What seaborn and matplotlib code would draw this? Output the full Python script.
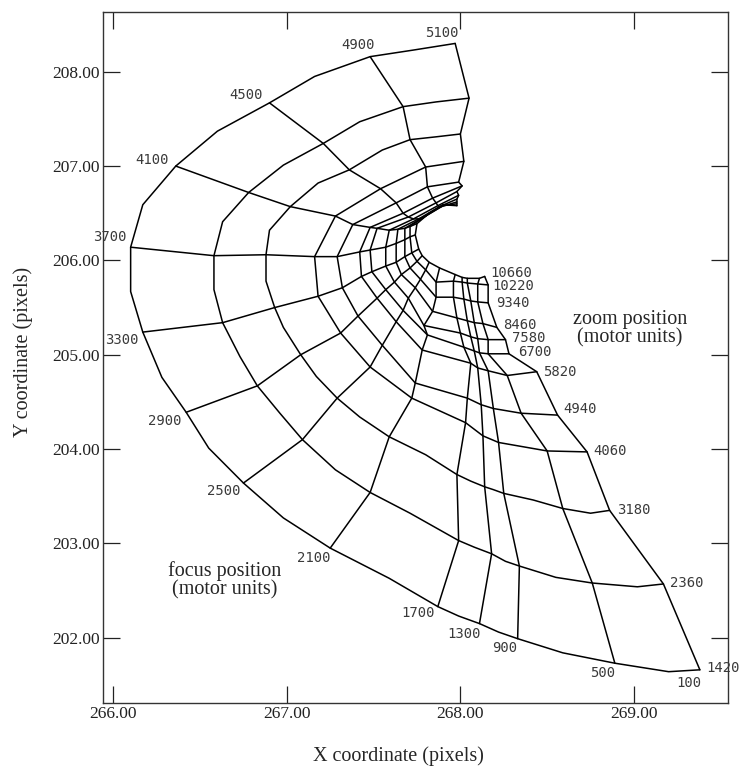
import numpy as np
import pandas as pd
import matplotlib
matplotlib.use("Agg")
import matplotlib.pyplot as plt
import seaborn as sns

sns.set_style("ticks")
plt.rcParams['font.family'] = ['Liberation Serif', 'DejaVu Serif']

focus = [100, 500, 900, 1300, 1700, 2100, 2500, 2900, 3300, 3700, 4100, 4500, 4900, 5100]
zoom = [1420, 2360, 3180, 4060, 4940, 5820, 6700, 7580, 8460, 9340, 10220, 10660]

# one arc per zoom setting, nodes listed by focus (100 ... 5100)
x_1420 = [269.38, 268.89, 268.33, 268.11, 267.87, 267.25, 266.75, 266.42, 266.17, 266.10, 266.36, 266.90, 267.48, 267.97]
y_1420 = [201.66, 201.73, 201.99, 202.15, 202.33, 202.95, 203.64, 204.39, 205.24, 206.14, 207.00, 207.67, 208.16, 208.30]
x_2360 = [269.17, 268.76, 268.34, 268.18, 267.99, 267.48, 267.09, 266.83, 266.63, 266.58, 266.78, 267.21, 267.67, 268.05]
y_2360 = [202.57, 202.58, 202.76, 202.89, 203.03, 203.54, 204.10, 204.67, 205.34, 206.05, 206.72, 207.24, 207.63, 207.72]
x_3180 = [268.86, 268.59, 268.25, 268.14, 267.98, 267.59, 267.29, 267.08, 266.93, 266.88, 267.02, 267.36, 267.71, 268.00]
y_3180 = [203.35, 203.37, 203.53, 203.60, 203.73, 204.13, 204.54, 205.00, 205.50, 206.06, 206.57, 206.96, 207.28, 207.34]
x_4060 = [268.73, 268.50, 268.22, 268.13, 268.03, 267.72, 267.48, 267.31, 267.18, 267.16, 267.28, 267.54, 267.80, 268.02]
y_4060 = [203.97, 203.98, 204.07, 204.14, 204.28, 204.54, 204.87, 205.23, 205.62, 206.04, 206.47, 206.76, 206.99, 207.05]
x_4940 = [268.56, 268.35, 268.19, 268.12, 268.04, 267.74, 267.55, 267.41, 267.32, 267.29, 267.38, 267.63, 267.81, 267.99]
y_4940 = [204.36, 204.38, 204.43, 204.47, 204.54, 204.70, 205.10, 205.41, 205.71, 206.04, 206.38, 206.61, 206.78, 206.83]
x_5820 = [268.44, 268.27, 268.16, 268.10, 268.06, 267.78, 267.63, 267.52, 267.43, 267.42, 267.48, 267.67, 267.84, 268.01]
y_5820 = [204.82, 204.78, 204.83, 204.86, 204.91, 205.05, 205.35, 205.60, 205.83, 206.09, 206.35, 206.50, 206.66, 206.79]
x_6700 = [268.28, 268.16, 268.11, 268.08, 268.02, 267.81, 267.67, 267.57, 267.49, 267.48, 267.52, 267.70, 267.86, 267.98]
y_6700 = [205.01, 205.01, 205.02, 205.04, 205.08, 205.21, 205.47, 205.69, 205.88, 206.11, 206.34, 206.46, 206.61, 206.73]
x_7580 = [268.26, 268.16, 268.10, 268.06, 268.00, 267.79, 267.70, 267.62, 267.57, 267.57, 267.59, 267.73, 267.87, 267.99]
y_7580 = [205.16, 205.16, 205.17, 205.19, 205.23, 205.31, 205.60, 205.77, 205.94, 206.14, 206.32, 206.44, 206.58, 206.69]
x_8460 = [268.21, 268.13, 268.08, 268.04, 267.98, 267.84, 267.74, 267.66, 267.63, 267.63, 267.64, 267.76, 267.88, 267.98]
y_8460 = [205.29, 205.33, 205.34, 205.36, 205.39, 205.46, 205.71, 205.85, 205.98, 206.18, 206.33, 206.44, 206.57, 206.65]
x_9340 = [268.16, 268.10, 268.06, 268.02, 267.96, 267.86, 267.77, 267.71, 267.68, 267.68, 267.68, 267.78, 267.89, 267.98]
y_9340 = [205.55, 205.56, 205.57, 205.59, 205.61, 205.61, 205.80, 205.92, 206.04, 206.22, 206.34, 206.45, 206.57, 206.62]
x_10220 = [268.16, 268.10, 268.04, 268.01, 267.96, 267.86, 267.80, 267.75, 267.72, 267.71, 267.71, 267.80, 267.90, 267.98]
y_10220 = [205.74, 205.75, 205.76, 205.77, 205.78, 205.77, 205.90, 205.99, 206.08, 206.25, 206.36, 206.47, 206.58, 206.60]
x_10660 = [268.14, 268.11, 268.04, 268.01, 267.97, 267.88, 267.82, 267.78, 267.76, 267.74, 267.75, 267.82, 267.90, 267.98]
y_10660 = [205.83, 205.81, 205.81, 205.82, 205.85, 205.92, 205.98, 206.05, 206.12, 206.27, 206.39, 206.50, 206.59, 206.58]

# extra samples half way between focus lines, seen on the three outer arcs
x_1420_mid = [269.20, 268.59, 268.22, 267.99, 267.59, 266.98, 266.55, 266.28, 266.10, 266.17, 266.60, 267.16, 267.73]
y_1420_mid = [201.64, 201.84, 202.06, 202.23, 202.63, 203.27, 204.01, 204.76, 205.67, 206.59, 207.37, 207.95, 208.23]
x_2360_mid = [269.02, 268.55, 268.26, 268.08, 267.71, 267.28, 266.96, 266.73, 266.58, 266.63, 266.98, 267.42, 267.86]
y_2360_mid = [202.54, 202.64, 202.81, 202.96, 203.32, 203.78, 204.38, 204.98, 205.69, 206.41, 207.01, 207.47, 207.68]
x_3180_mid = [268.75, 268.42, 268.19, 268.06, 267.80, 267.42, 267.17, 266.98, 266.88, 266.90, 267.18, 267.55, 267.86]
y_3180_mid = [203.32, 203.46, 203.57, 203.66, 203.94, 204.34, 204.77, 205.29, 205.78, 206.32, 206.82, 207.17, 207.31]

grid_x = np.array([x_1420, x_2360, x_3180, x_4060, x_4940, x_5820,
                   x_6700, x_7580, x_8460, x_9340, x_10220, x_10660])
grid_y = np.array([y_1420, y_2360, y_3180, y_4060, y_4940, y_5820,
                   y_6700, y_7580, y_8460, y_9340, y_10220, y_10660])
mids = {1420: (x_1420_mid, y_1420_mid), 2360: (x_2360_mid, y_2360_mid),
        3180: (x_3180_mid, y_3180_mid)}

# long table: every arc (fixed zoom) and every spoke (fixed focus) is one unit
rows = []
for i, z in enumerate(zoom):
    xs, ys = list(grid_x[i]), list(grid_y[i])
    if z in mids:
        mx, my = mids[z]
        xs = [v for pair in zip(xs[:-1], mx) for v in pair] + [xs[-1]]
        ys = [v for pair in zip(ys[:-1], my) for v in pair] + [ys[-1]]
    for k in range(len(xs)):
        rows.append(("zoom%d" % z, k, xs[k], ys[k]))
for j, f in enumerate(focus):
    for i in range(len(zoom)):
        rows.append(("focus%d" % f, i, grid_x[i, j], grid_y[i, j]))
df = pd.DataFrame(rows, columns=["line", "order", "x", "y"])

fig = plt.figure(figsize=(7.41, 7.66), dpi=100)
ax = fig.add_axes([0.1386, 0.0826, 0.8443, 0.9017])

sns.lineplot(data=df, x="x", y="y", units="line", estimator=None, sort=False,
             color="black", lw=1.1, legend=False, ax=ax)

ax.set_xlim(265.939, 269.544)
ax.set_ylim(201.311, 208.633)
ax.set_xticks([266, 267, 268, 269])
ax.set_yticks([202, 203, 204, 205, 206, 207, 208])
ax.xaxis.set_major_formatter(matplotlib.ticker.FormatStrFormatter("%.2f"))
ax.yaxis.set_major_formatter(matplotlib.ticker.FormatStrFormatter("%.2f"))
ax.tick_params(direction="in", length=12, width=0.9, top=True, right=True,
               labelsize=12.5, pad=2, colors="#222222")
for sp in ax.spines.values():
    sp.set_linewidth(1.0)
    sp.set_color("#333333")

ax.set_xlabel("X coordinate (pixels)", fontsize=14.5)
ax.set_ylabel("Y coordinate (pixels)", fontsize=14.5)
ax.xaxis.set_label_coords(0.472, -0.063)
ax.yaxis.set_label_coords(-0.111, 0.508)

# labels for the focus lines along the outer arc
focus_offsets = [(-10.5, -13.3), (-12.5, -9.7), (-12.5, -9.3), (-15, -10.3), (-20, -6.3),
                 (-16.5, -10.3), (-19.5, -8), (-21, -8.7), (-20.5, -8), (-21, 10.3),
                 (-23.5, 6), (-23.5, 8), (-12.5, 11.3), (-13.5, 10.3)]
for j, f in enumerate(focus):
    ax.annotate(str(f), (x_1420[j], y_1420[j]), xytext=focus_offsets[j],
                textcoords="offset pixels", ha="center", va="center",
                fontsize=10, family="DejaVu Sans Mono", color="#3a3a3a")

# labels for the zoom lines along the focus=100 edge
zoom_offsets = [(6, 1.7), (7, 0.7), (7, 0), (6, 1.3), (6, 5.7), (6, 0), (9, 1.3),
                (7, 1.7), (6, 2), (8, 0), (4, -0.7), (6, 3.3)]
for i, z in enumerate(zoom):
    ax.annotate(str(z), (grid_x[i, 0], grid_y[i, 0]), xytext=zoom_offsets[i],
                textcoords="offset pixels", ha="left", va="center",
                fontsize=10, family="DejaVu Sans Mono", color="#3a3a3a")

ax.text(0.843, 0.541, "zoom position\n(motor units)", transform=ax.transAxes,
        ha="center", va="center", fontsize=14.5, linespacing=0.95)
ax.text(0.1947, 0.177, "focus position\n(motor units)", transform=ax.transAxes,
        ha="center", va="center", fontsize=14.5, linespacing=0.95)

fig.savefig("out.png", dpi=100)
